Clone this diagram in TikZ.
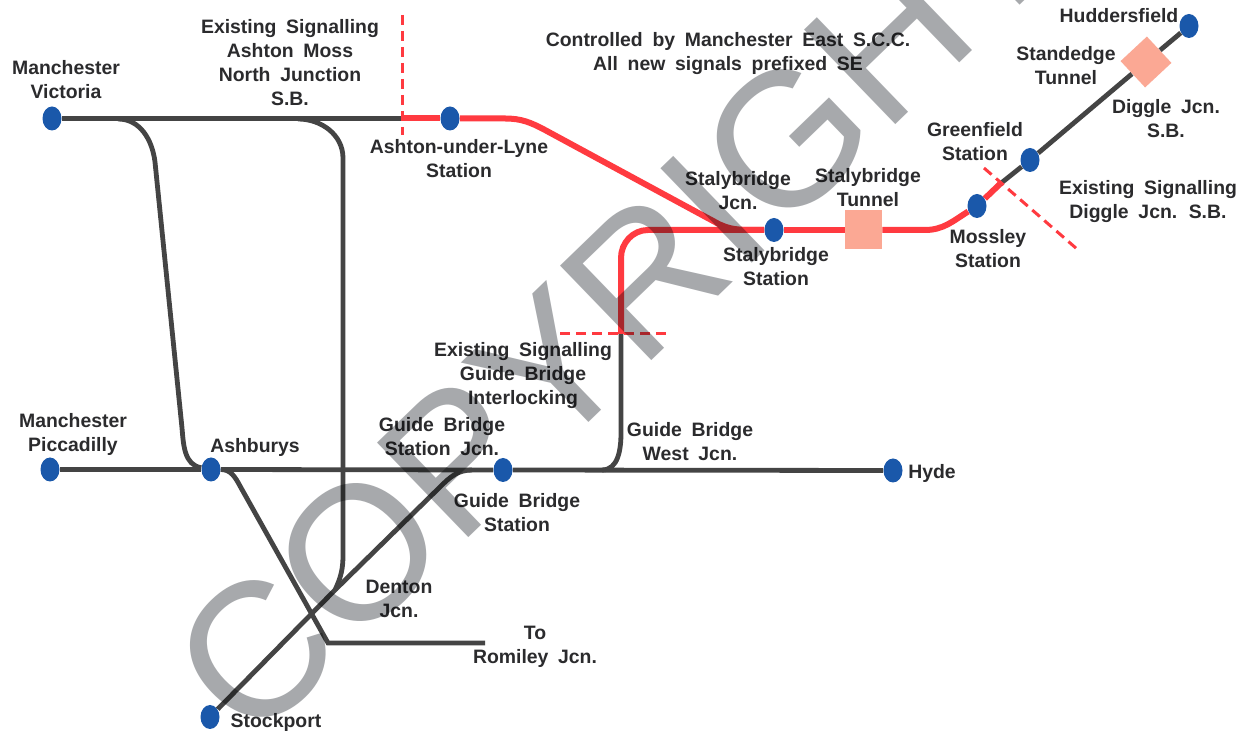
\documentclass[tikz,border=0pt]{standalone}
\usepackage{fontspec}
\setmainfont{Liberation Sans}[WordSpace=1.8]
\usepackage{xcolor}
\usetikzlibrary{shapes.geometric}
\definecolor{trackgrey}{HTML}{444444}
\definecolor{newred}{HTML}{FF3A40}
\definecolor{dotblue}{HTML}{1A58AA}
\definecolor{tunnelpink}{HTML}{FBA894}
\definecolor{stampgrey}{HTML}{A7A9AC}
\definecolor{labelgrey}{HTML}{2B2B2D}

\begin{document}
\begin{tikzpicture}[
    x=0.5pt, y=-0.5pt,
    stn/.style={ellipse, fill=dotblue, inner sep=0pt, minimum width=9.5pt, minimum height=12pt},
    tunnel/.style={rectangle, fill=tunnelpink, inner sep=0pt},
    lbl/.style={align=center, text=labelgrey, font=\bfseries\fontsize{9.7}{12}\selectfont},
    trk/.style={draw=trackgrey, line width=2.4pt},
    newtrk/.style={draw=newred, line width=3pt},
    limit/.style={draw=newred, line width=1.5pt, dash pattern=on 5pt off 3pt}
]
    \useasboundingbox (0,0) rectangle (1244,731);
    \fill[white] (0,0) rectangle (1244,731);

    % Stations
    \node[stn] (victoria) at (52,118.5) {};
    \node[stn] (ashton) at (450,118.5) {};
    \node[stn] (staly) at (774,230) {};
    \node[stn] (mossley) at (977,206) {};
    \node[stn] (greenfield) at (1030,160) {};
    \node[stn] (hudd) at (1189,26) {};
    \node[stn] (piccadilly) at (50,469.5) {};
    \node[stn] (ashburys) at (211,469.5) {};
    \node[stn] (guide) at (503,470) {};
    \node[stn] (hyde) at (893,470.5) {};
    \node[stn] (stockport) at (210,717) {};

    % Tunnels
    \node[tunnel, minimum width=18.5pt, minimum height=19.5pt] (stalytun) at (863.5,230) {};
    \node[tunnel, minimum width=18pt, minimum height=18pt, rotate=43] (standedge) at (1146,62) {};

    % Junction points
    \coordinate (sigashton) at (402,118.5);
    \coordinate (vica) at (118,119);
    \coordinate (vicb) at (155,162);
    \coordinate (vicc) at (182,428);
    \coordinate (mossa) at (298,119);
    \coordinate (mossb) at (343,158);
    \coordinate (mossc) at (343,555);
    \coordinate (denton) at (335,590);
    \coordinate (stocka) at (440,487);
    \coordinate (stockb) at (472,470);
    \coordinate (roma) at (240,486);
    \coordinate (romb) at (328,643);
    \coordinate (romc) at (485,643);
    \coordinate (westa) at (602,470);
    \coordinate (westb) at (621,433);
    \coordinate (sigguide) at (621,334);
    \coordinate (westc) at (621,258);
    \coordinate (westd) at (648,230);
    \coordinate (ashc) at (505,118.5);
    \coordinate (ashd) at (545,130);
    \coordinate (ashe) at (715,222);
    \coordinate (ashf) at (755,230);
    \coordinate (mossl) at (925,230);
    \coordinate (sigdiggle) at (1000,184);

    % Existing lines
    \draw[trk] (victoria) -- (sigashton);
    \draw[trk] (vica) to[out=0, in=97] (vicb) -- (vicc) to[out=-85, in=170] (ashburys);
    \draw[trk] (mossa) to[out=0, in=90] (mossb) -- (mossc) to[out=-90, in=65] (denton);
    \draw[trk] (piccadilly) -- (ashburys);
    \draw[trk] (ashburys) -- (guide);
    \draw[trk] (guide) -- (hyde);
    \draw[trk] (stockport) -- (denton) -- (stocka) to[out=45, in=180] (stockb);
    \draw[trk] (ashburys) to[out=0, in=118] (roma) -- (romb) -- (romc);
    \draw[trk] (westa) to[out=0, in=-90] (westb) -- (sigguide);
    \draw[trk] (sigdiggle) -- (greenfield);
    \draw[trk] (greenfield) -- (standedge);
    \draw[trk] (standedge) -- (hudd);

    % New lines
    \draw[newtrk] (sigashton) -- (ashton);
    \draw[newtrk] (ashton) -- (ashc) to[out=0, in=152] (ashd) -- (ashe) to[out=-30, in=180] (ashf) -- (staly);
    \draw[newtrk] (sigguide) -- (westc) to[out=90, in=180] (westd) -- (staly);
    \draw[newtrk] (staly) -- (stalytun);
    \draw[newtrk] (stalytun) -- (mossl) to[out=0, in=212] (mossley);
    \draw[newtrk] (mossley) -- (sigdiggle);

    % Signalling limits
    \coordinate (lima) at (402,15);
    \coordinate (limb) at (402,135);
    \coordinate (limc) at (560,334);
    \coordinate (limd) at (669,334);
    \coordinate (lime) at (984,168);
    \coordinate (limf) at (1077,249);
    \draw[limit] (lima) -- (limb);
    \draw[limit] (limc) -- (limd);
    \draw[limit] (lime) -- (limf);

    % Labels
    \node[lbl] (lvictoria) at (66,79.5) {Manchester\\Victoria};
    \node[lbl] (lsigashton) at (290,63) {Existing Signalling\\Ashton Moss\\North Junction\\S.B.};
    \node[lbl] (lcontrol) at (728,54) {Controlled by Manchester East S.C.C.\\All new signals prefixed SE};
    \node[lbl] (lashton) at (459,159) {Ashton-under-Lyne\\Station};
    \node[lbl] (lstalyjcn) at (738,191) {Stalybridge\\Jcn.};
    \node[lbl] (lstalytun) at (868,188) {Stalybridge\\Tunnel};
    \node[lbl] (lstaly) at (776,267) {Stalybridge\\Station};
    \node[lbl] (lgreenfield) at (975,142) {Greenfield\\Station};
    \node[lbl] (lmossley) at (988,249) {Mossley\\Station};
    \node[lbl] (lhudd) at (1119,16) {Huddersfield};
    \node[lbl] (lstandedge) at (1066,65.5) {Standedge\\Tunnel};
    \node[lbl] (ldiggle) at (1166,118.5) {Diggle Jcn.\\S.B.};
    \node[lbl] (lsigdiggle) at (1148,201.5) {Existing Signalling\\Diggle Jcn. S.B.};
    \node[lbl] (lsigguide) at (523,376) {Existing Signalling\\Guide Bridge\\Interlocking};
    \node[lbl] (lguidejcn) at (442,437) {Guide Bridge\\Station Jcn.};
    \node[lbl] (lwest) at (690,442) {Guide Bridge\\West Jcn.};
    \node[lbl] (lpiccadilly) at (73,434.5) {Manchester\\Piccadilly};
    \node[lbl] (lashburys) at (255,447) {Ashburys};
    \node[lbl] (lguide) at (517,513) {Guide Bridge\\Station};
    \node[lbl] (lhyde) at (932,473) {Hyde};
    \node[lbl] (ldenton) at (399,599) {Denton\\Jcn.};
    \node[lbl] (lromiley) at (535,647) {To\\Romiley Jcn.};
    \node[lbl] (lstockport) at (276,722) {Stockport};

    % Watermark
    \begin{scope}[blend mode=multiply]
        \clip (0,0) rectangle (1244,731);
        \node[text=stampgrey, rotate=44, inner sep=0pt, font=\fontsize{95.5}{95.5}\selectfont] (stamp) at (614,306) {COPYRIGHT};
    \end{scope}
\end{tikzpicture}
\end{document}
